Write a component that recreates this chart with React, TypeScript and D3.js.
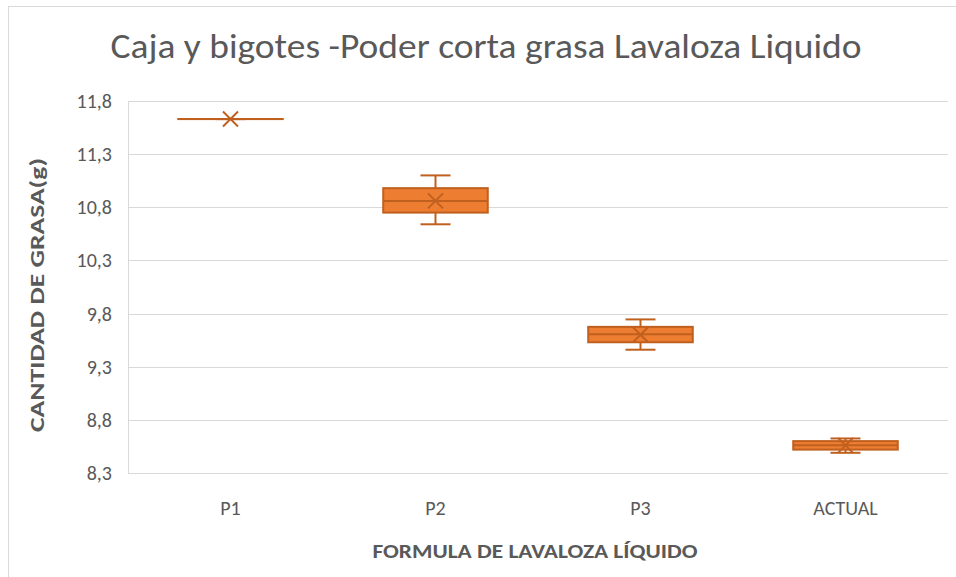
import React from "react";
import * as d3 from "d3";

const categories = ["P1", "P2", "P3", "ACTUAL"];
const whiskerMin = [11.63, 10.64, 9.46, 8.49];
const quartile1 = [11.63, 10.75, 9.53, 8.52];
const medians = [11.63, 10.86, 9.605, 8.56];
const quartile3 = [11.63, 10.98, 9.675, 8.6];
const whiskerMax = [11.63, 11.1, 9.745, 8.625];
const means = [11.63, 10.86, 9.6, 8.56];
const yTicks = [8.3, 8.8, 9.3, 9.8, 10.3, 10.8, 11.3, 11.8];

const W = 956;
const H = 577;
const M = { left: 128, right: 948, top: 101, bottom: 473 };
const FILL = "#ED7D31";
const STROKE = "#C0601F";
const FONT = "Carlito, Calibri, Lato, sans-serif";

export default function App() {
  const x = d3.scaleBand<string>().domain(categories).range([M.left, M.right]).paddingInner(0).paddingOuter(0);
  const y = d3.scaleLinear().domain([8.3, 11.8]).range([M.bottom, M.top]);
  const boxW = x.bandwidth() * 0.51;
  const capW = 30;
  const fmt = (v: number) => v.toFixed(1).replace(".", ",");

  return (
    <svg width={W} height={H} style={{ position: "absolute", left: 0, top: 0, background: "#fff" }}>
      <rect x={8.5} y={6.5} width={W + 10} height={H + 10} fill="#fff" stroke="#d9d9d9" strokeWidth={1} />
      <text x={486} y={58} textAnchor="middle" fontFamily={FONT} fontSize={34} fontWeight={300} fill="#595959" textLength={751} lengthAdjust="spacingAndGlyphs">
        Caja y bigotes -Poder corta grasa Lavaloza Liquido
      </text>
      {yTicks.map((t) => (
        <g key={t}>
          <line x1={M.left} x2={M.right} y1={Math.round(y(t)) + 0.5} y2={Math.round(y(t)) + 0.5} stroke="#d9d9d9" strokeWidth={1} />
          <text x={112} y={y(t) + 7} textAnchor="end" fontFamily={FONT} fontSize={20} fill="#595959">
            {fmt(t)}
          </text>
        </g>
      ))}
      <line x1={M.left + 0.5} x2={M.left + 0.5} y1={M.top} y2={M.bottom} stroke="#d9d9d9" strokeWidth={1} />
      {categories.map((c) => (
        <text key={c} x={(x(c) as number) + x.bandwidth() / 2} y={515} textAnchor="middle" fontFamily={FONT} fontSize={20} fill="#595959">
          {c}
        </text>
      ))}
      <text x={535} y={558} textAnchor="middle" fontFamily={FONT} fontSize={21} fontWeight="bold" fill="#595959" textLength={325} lengthAdjust="spacingAndGlyphs">
        FORMULA DE LAVALOZA LÍQUIDO
      </text>
      <text transform={`translate(44,295) rotate(-90)`} textAnchor="middle" fontFamily={FONT} fontSize={21} fontWeight="bold" fill="#595959" textLength={274} lengthAdjust="spacingAndGlyphs">
        CANTIDAD DE GRASA(g)
      </text>
      {categories.map((c, i) => {
        const cx = (x(c) as number) + x.bandwidth() / 2;
        const yq1 = y(quartile1[i]);
        const yq3 = y(quartile3[i]);
        const ymin = y(whiskerMin[i]);
        const ymax = y(whiskerMax[i]);
        const ymed = y(medians[i]);
        const ymean = y(means[i]);
        const s = 7.5;
        return (
          <g key={c}>
            <line x1={cx} x2={cx} y1={ymax} y2={yq3} stroke={STROKE} strokeWidth={2} />
            <line x1={cx} x2={cx} y1={yq1} y2={ymin} stroke={STROKE} strokeWidth={2} />
            <line x1={cx - capW / 2} x2={cx + capW / 2} y1={ymax} y2={ymax} stroke={STROKE} strokeWidth={2} />
            <line x1={cx - capW / 2} x2={cx + capW / 2} y1={ymin} y2={ymin} stroke={STROKE} strokeWidth={2} />
            <rect x={cx - boxW / 2} y={yq3} width={boxW} height={Math.max(yq1 - yq3, 0.01)} fill={FILL} stroke={STROKE} strokeWidth={2} />
            <line x1={cx - boxW / 2} x2={cx + boxW / 2} y1={ymed} y2={ymed} stroke={STROKE} strokeWidth={2} />
            <path d={`M${cx - s},${ymean - s}L${cx + s},${ymean + s}M${cx - s},${ymean + s}L${cx + s},${ymean - s}`} stroke={STROKE} strokeWidth={2} fill="none" />
          </g>
        );
      })}
    </svg>
  );
}
